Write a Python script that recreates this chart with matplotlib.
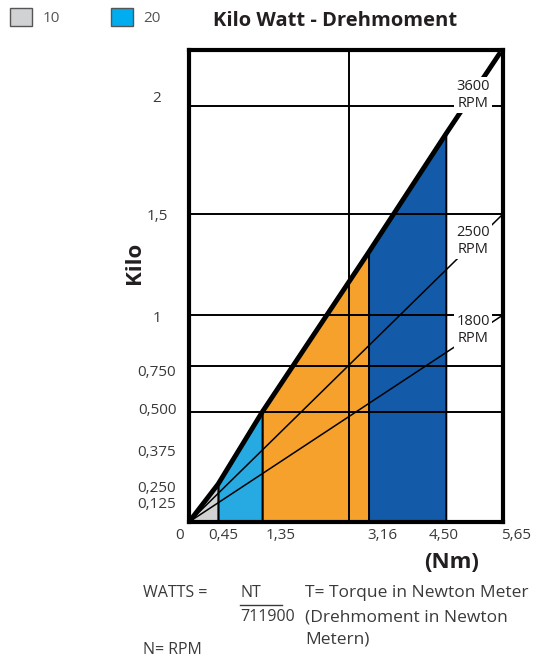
import numpy as np
import matplotlib.pyplot as plt
from matplotlib.patches import Patch
from matplotlib.lines import Line2D
import matplotlib.transforms as mtransforms

plt.rcParams['font.family'] = ['Open Sans', 'DejaVu Sans']

# --- data -------------------------------------------------------------
torque_edges = [0, 0.45, 1.35, 3.16, 4.50]          # Nm, band borders
kw_3600 = [0, 0.26, 0.5, 1.31, 1.87]                # kW on the 3600 RPM line
band_colors = ['#d1d2d4', '#27aae1', '#f6a12b', '#135ba8']
end_3600 = (5.6, 2.25)
rpm_names = ['3600', '2500', '1800']
rpm_kw_at_max = [None, 1.5, 1.0]                    # kW at 5.65 Nm
x_ticks = [0, 0.45, 1.35, 3.16, 4.50, 5.65]
x_labels = ['0', '0,45', '1,35', '3,16', '4,50', '5,65']
y_ticks = [0.125, 0.25, 0.375, 0.5, 0.75, 1, 1.5, 2]
y_labels = ['0,125', '0,250', '0,375', '0,500', '0,750', '1', '1,5', '2']
grid_kw = [0.5, 0.75, 1, 1.5, 2]
grid_nm = [2.82]
legend_labels = ['10', '20']
legend_colors = ['#d1d2d4', '#00aeef']

# --- schematic (piecewise) axis scales ----------------------------------
x_anchor = [-10, 0, 0.45, 1.35, 3.16, 4.50, 5.65, 20]
x_pos = [-640, 0, 29, 73, 179, 256, 313, 1030]
y_anchor = [-10, 0, 0.125, 0.25, 0.375, 0.5, 0.75, 1, 1.5, 2, 2.26, 20]
y_pos = [-1520, 0, 19, 35, 71, 110, 156, 207, 308, 416, 472, 8100]

W, H = 534, 657
fig = plt.figure(figsize=(W / 100, H / 100), dpi=100)
ax = fig.add_axes([189 / W, 1 - 522 / H, 314 / W, 472 / H])
ax.set_xscale('function', functions=(lambda v: np.interp(v, x_anchor, x_pos),
                                     lambda p: np.interp(p, x_pos, x_anchor)))
ax.set_yscale('function', functions=(lambda v: np.interp(v, y_anchor, y_pos),
                                     lambda p: np.interp(p, y_pos, y_anchor)))
ax.set_xlim(0, 5.65)
ax.set_ylim(0, 2.26)

# coloured bands under the 3600 RPM line
for i, c in enumerate(band_colors):
    xs = torque_edges[i:i + 2]
    ys = kw_3600[i:i + 2]
    ax.fill_between(xs, 0, ys, facecolor=c, edgecolor='black', lw=1.4, zorder=1)

for k in grid_kw:
    ax.axhline(k, color='black', lw=1.4, zorder=3)
for n in grid_nm:
    ax.axvline(n, color='black', lw=1.4, zorder=3)

ax.plot(torque_edges + [end_3600[0]], kw_3600 + [end_3600[1]],
        color='black', lw=3.5, solid_capstyle='butt', zorder=4)
for kw in rpm_kw_at_max[1:]:
    ax.plot([0, 5.65], [0, kw], color='black', lw=1.1, zorder=4)

for s in ax.spines.values():
    s.set_linewidth(3)
    s.set_zorder(6)

ax.set_xticks(x_ticks, x_labels)
ax.set_yticks(y_ticks, y_labels)
ax.minorticks_off()
ax.tick_params(length=0, labelsize=11, labelcolor='#3a3a3a')
ax.tick_params(axis='y', pad=23)
ax.tick_params(axis='x', pad=4)
for lab in ax.get_yticklabels():
    lab.set_horizontalalignment('center')

x_off = [-9, 5, 18, 14, -2, 13]
for lab, dx in zip(ax.get_xticklabels(), x_off):
    lab.set_transform(lab.get_transform() +
                      mtransforms.ScaledTranslation(dx / 100, 0, fig.dpi_scale_trans))
y_off = [0, 0, 0, 3, -5, -2, 0, 9]
for lab, dy in zip(ax.get_yticklabels(), y_off):
    lab.set_transform(lab.get_transform() +
                      mtransforms.ScaledTranslation(0, dy / 100, fig.dpi_scale_trans))


def px(x, y):
    return x / W, 1 - y / H


# RPM labels
for name, y in zip(rpm_names, [95, 241, 330]):
    fig.text(*px(473, y), f'{name}\nRPM', ha='center', va='center', fontsize=10.5,
             linespacing=1.1, color='#231f20', zorder=10,
             bbox=dict(boxstyle='square,pad=0.15', fc='white', ec='none'))

fig.text(*px(335, 21), 'Kilo Watt - Drehmoment', ha='center', va='center',
         fontsize=14.5, fontweight='bold', color='#231f20')
fig.text(*px(135, 263), 'Kilo', ha='center', va='center', rotation=90,
         fontsize=16, fontweight='bold', color='#231f20')
fig.text(*px(452, 563), '(Nm)', ha='center', va='center',
         fontsize=16, fontweight='bold', color='#231f20')

fig.legend(handles=[Patch(facecolor=c, edgecolor='#555555', lw=1) for c in legend_colors],
           labels=legend_labels, ncol=2, loc='upper left', bbox_to_anchor=px(10, 8),
           frameon=False, fontsize=11, labelcolor='#555555', handlelength=1.45,
           handleheight=1.45, handletextpad=0.7, columnspacing=3.3,
           borderpad=0, borderaxespad=0)

# formula block
tc = '#3a3a3a'
fig.text(*px(143, 593), 'WATTS =', va='center', fontsize=11.5, color=tc)
fig.text(*px(240, 593), 'NT', va='center', fontsize=11.5, color=tc)
fig.add_artist(Line2D([240 / W, 282 / W], [1 - 605 / H] * 2, color=tc, lw=1))
fig.text(*px(240, 617), '711900', va='center', fontsize=11.5, color=tc)
fig.text(*px(305, 593), 'T= Torque in Newton Meter', va='center', fontsize=12.5, color=tc)
fig.text(*px(305, 617), '(Drehmoment in Newton', va='center', fontsize=12.5, color=tc)
fig.text(*px(305, 640), 'Metern)', va='center', fontsize=12.5, color=tc)
fig.text(*px(143, 650), 'N= RPM', va='center', fontsize=11.5, color=tc)

fig.savefig('out.png', dpi=100)
